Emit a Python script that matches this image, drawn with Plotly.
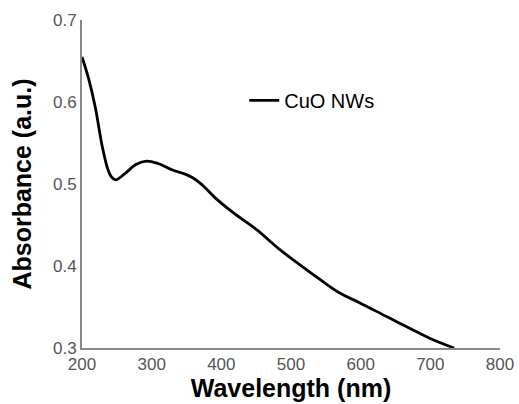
import plotly.graph_objects as go

wavelength = [200, 209, 219, 229, 237, 242, 248, 262, 278, 293, 309, 330, 348, 360, 375, 390,
              417, 451, 484, 523, 541, 570, 599, 638, 666, 699, 734]
absorbance = [0.655, 0.630, 0.594, 0.546, 0.518, 0.509, 0.505, 0.513, 0.524, 0.528, 0.525,
              0.517, 0.512, 0.507, 0.497, 0.484, 0.465, 0.444, 0.420, 0.395, 0.384, 0.367,
              0.355, 0.338, 0.326, 0.312, 0.300]
series_name = "CuO NWs"
x_ticks = [200, 300, 400, 500, 600, 700, 800]
y_ticks = [0.3, 0.4, 0.5, 0.6, 0.7]

fig = go.Figure()
fig.add_trace(go.Scatter(x=wavelength, y=absorbance, mode="lines", name=series_name,
                         line=dict(color="black", width=2.8, shape="spline", smoothing=1.0)))

axis_font = dict(family="Liberation Sans, Arial, sans-serif", size=17, color="#555555")
title_font = dict(family="Liberation Sans, Arial, sans-serif", size=25, color="black")

fig.update_layout(
    width=519, height=404,
    margin=dict(l=82, r=19, t=20, b=56, autoexpand=False),
    paper_bgcolor="white", plot_bgcolor="white",
    showlegend=True,
    legend=dict(x=0.388, y=0.755, xanchor="left", yanchor="middle",
                font=dict(family="Liberation Sans, Arial, sans-serif", size=20, color="black"),
                bgcolor="rgba(0,0,0,0)"),
    xaxis=dict(range=[200, 800], tickvals=x_ticks, showgrid=False, zeroline=False,
               showline=True, linecolor="#8a8a8a", linewidth=2, ticks="", ticklen=0,
               tickfont=axis_font, automargin=False,
               title=dict(text="<b>Wavelength (nm)</b>", font=title_font, standoff=6)),
    yaxis=dict(range=[0.3, 0.7], tickvals=y_ticks, tickformat=".1f", showgrid=False,
               zeroline=False, showline=True, linecolor="#8a8a8a", linewidth=2, ticks="",
               ticklen=0, tickfont=axis_font, automargin=False,
               title=dict(text="<b>Absorbance (a.u.)</b>", font=title_font, standoff=14)),
)

fig.write_html("out.html")
